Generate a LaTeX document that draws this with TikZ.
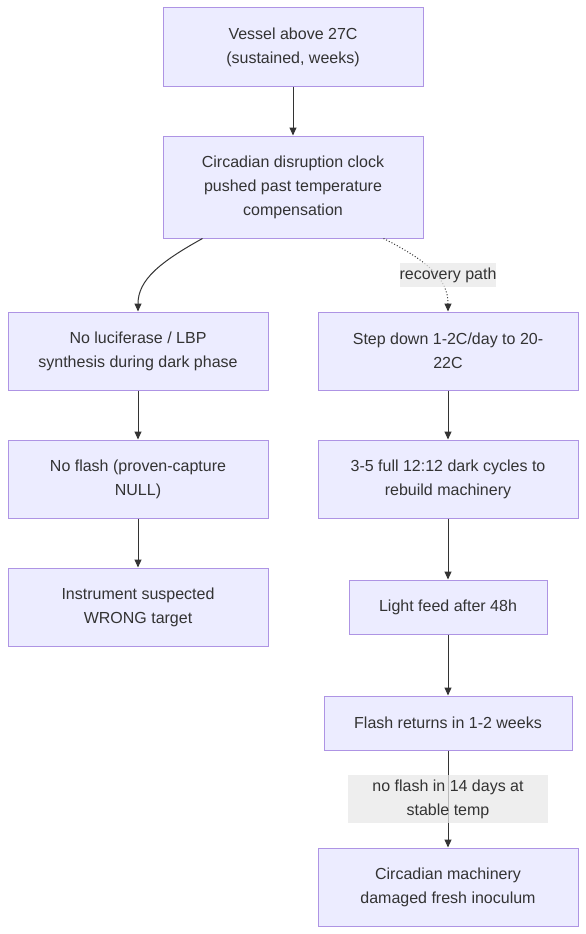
\documentclass[tikz,border=0pt]{standalone}
\usepackage{fontspec}
\setmainfont{Liberation Sans}
\usetikzlibrary{arrows.meta}

\definecolor{boxfill}{HTML}{ECECFF}
\definecolor{boxline}{HTML}{AE94E4}
\definecolor{inktext}{HTML}{333333}
\definecolor{labelbg}{HTML}{E8E8E8}

\tikzset{
  stagebox/.style={draw=boxline, fill=boxfill, line width=1pt, text=inktext,
    align=center, minimum width=260pt, minimum height=78pt, inner sep=0pt},
  flow/.style={draw=inktext, line width=1pt, -{Triangle[length=8pt,width=7pt]}},
  edgetag/.style={fill=labelbg, fill opacity=0.75, text opacity=1, text=inktext,
    align=center, inner sep=0pt}
}

\begin{document}
\begin{tikzpicture}[x=1pt, y=-1pt, font=\fontsize{16}{24}\selectfont]

\useasboundingbox (0,0) rectangle (586,934);

% main column
\node[stagebox] (vessel) at (293, 47) {Vessel above 27C\\(sustained, weeks)};
\node[stagebox, minimum height=102pt] (circ) at (293, 187) {Circadian disruption clock\\pushed past temperature\\compensation};

% failure side
\node[stagebox] (noluc) at (138, 351) {No luciferase / LBP\\synthesis during dark phase};
\node[stagebox] (noflash) at (138, 479) {No flash (proven-capture\\NULL)};
\node[stagebox] (instr) at (138, 607) {Instrument suspected\\WRONG target};

% recovery side
\node[stagebox] (stepdown) at (448, 351) {Step down 1-2C/day to 20-\\22C};
\node[stagebox] (cycles) at (448, 479) {3-5 full 12:12 dark cycles to\\rebuild machinery};
\node[stagebox, minimum width=198pt, minimum height=54pt] (feed) at (448, 607) {Light feed after 48h};
\node[stagebox, minimum width=248pt, minimum height=54pt] (returns) at (448, 723) {Flash returns in 1-2 weeks};
\node[stagebox] (damaged) at (448, 887) {Circadian machinery\\damaged fresh inoculum};

\foreach \a/\b in {vessel/circ, noluc/noflash, noflash/instr, stepdown/cycles, cycles/feed, feed/returns, returns/damaged}
{
  \draw[flow] (\a) -- (\b);
}

\draw[flow] ([xshift=40pt]circ.south west) .. controls (160, 262) and (138, 280) .. (noluc.north);
\draw[flow, dotted] ([xshift=-40pt]circ.south east) .. controls (430, 262) and (448, 280) .. (stepdown.north);

\node[edgetag, minimum width=96pt, minimum height=24pt] (tagrec) at (448, 275) {recovery path};
\node[edgetag, minimum width=200pt, minimum height=48pt] (tagfail) at (448, 799) {no flash in 14 days at\\stable temp};

\end{tikzpicture}
\end{document}
